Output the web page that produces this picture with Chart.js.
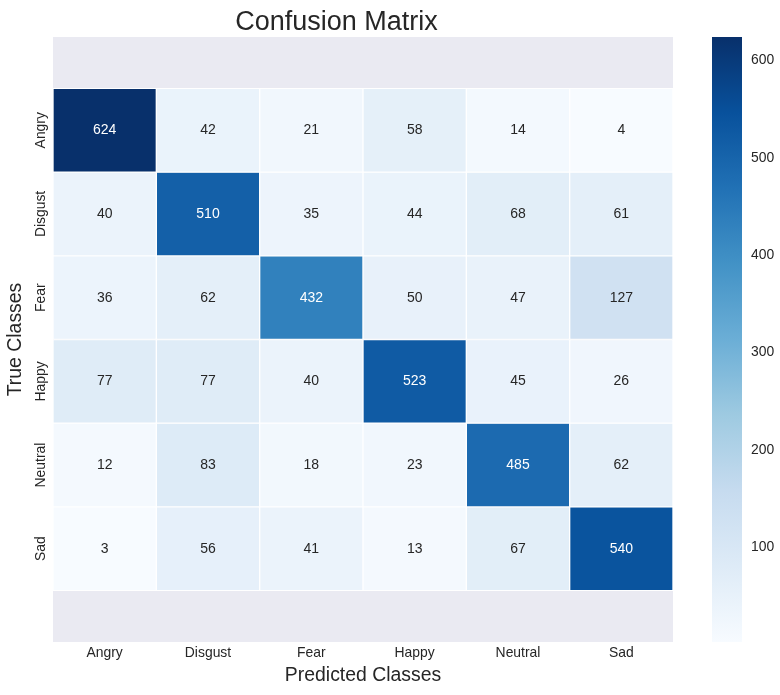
<!DOCTYPE html>
<html>
<head>
<meta charset="utf-8">
<script src="https://cdn.jsdelivr.net/npm/chart.js@4.4.1/dist/chart.umd.min.js"></script>
<style>
  body { margin: 0; background: #fff; }
  #wrap { position: relative; width: 780px; height: 695px; }
  canvas { position: absolute; top: 0; }
  #matriz { left: 0; }
  #barra { left: 700px; z-index: 2; }
</style>
</head>
<body>
<div id="wrap">
  <canvas id="matriz" width="726" height="695"></canvas>
  <canvas id="barra" width="80" height="695"></canvas>
</div>
<script>
// Dados da matriz (linhas = classe real, colunas = classe prevista)
const classes = ['Angry', 'Disgust', 'Fear', 'Happy', 'Neutral', 'Sad'];
const angry   = [624, 42, 21, 58, 14, 4];
const disgust = [40, 510, 35, 44, 68, 61];
const fear    = [36, 62, 432, 50, 47, 127];
const happy   = [77, 77, 40, 523, 45, 26];
const neutral = [12, 83, 18, 23, 485, 62];
const sad     = [3, 56, 41, 13, 67, 540];
const matriz = [angry, disgust, fear, happy, neutral, sad];
const barraTicks = [100, 200, 300, 400, 500, 600];

const vMin = Math.min(...matriz.flat());
const vMax = Math.max(...matriz.flat());

const fonte = '"Liberation Sans", Arial, sans-serif';
const corEscura = '#262626';

// Mapa de cores "Blues"
const blues = ['#f7fbff', '#deebf7', '#c6dbef', '#9ecae1', '#6baed6', '#4292c6', '#2171b5', '#08519c', '#08306b'];
const hexRgb = h => [1, 3, 5].map(i => parseInt(h.substr(i, 2), 16));

function corRgb(v) {
  const t = Math.max(0, Math.min(1, (v - vMin) / (vMax - vMin))) * (blues.length - 1);
  const i = Math.min(Math.floor(t), blues.length - 2);
  const f = t - i;
  const a = hexRgb(blues[i]), b = hexRgb(blues[i + 1]);
  return a.map((c, k) => Math.round(c + (b[k] - c) * f));
}
const cor = v => `rgb(${corRgb(v).join(',')})`;

function corTexto(v) {
  const lin = corRgb(v).map(c => {
    c /= 255;
    return c <= 0.03928 ? c / 12.92 : Math.pow((c + 0.055) / 1.055, 2.4);
  });
  const lum = 0.2126 * lin[0] + 0.7152 * lin[1] + 0.0722 * lin[2];
  return lum > 0.408 ? corEscura : '#ffffff';
}

// Fundo cinza da área do gráfico
const fundoEixo = {
  id: 'fundoEixo',
  beforeDatasetsDraw(chart) {
    const { ctx, chartArea: a } = chart;
    ctx.save();
    ctx.fillStyle = '#EAEAF2';
    ctx.fillRect(a.left, a.top, a.right - a.left, a.bottom - a.top);
    ctx.restore();
  }
};

// Números dentro das células
const anotacoes = {
  id: 'anotacoes',
  afterDatasetsDraw(chart) {
    const ctx = chart.ctx;
    ctx.save();
    ctx.font = `14px ${fonte}`;
    ctx.textAlign = 'center';
    ctx.textBaseline = 'middle';
    chart.data.datasets.forEach((ds, i) => {
      chart.getDatasetMeta(i).data.forEach((bar, j) => {
        const v = matriz[i][j];
        ctx.fillStyle = corTexto(v);
        ctx.fillText(String(v), bar.x, (bar.y + bar.base) / 2);
      });
    });
    ctx.restore();
  }
};

new Chart(document.getElementById('matriz'), {
  type: 'bar',
  data: {
    labels: classes,
    datasets: matriz.map((linha, i) => ({
      label: classes[i],
      data: linha.map(() => [i - 0.5, i + 0.5]),
      backgroundColor: linha.map(cor),
      borderColor: '#ffffff',
      borderWidth: 1,
      borderSkipped: false,
      grouped: false,
      barPercentage: 1,
      categoryPercentage: 1
    }))
  },
  options: {
    responsive: false,
    animation: false,
    layout: { padding: { right: 53 } },
    plugins: {
      legend: { display: false },
      tooltip: { enabled: false },
      title: {
        display: true,
        text: 'Confusion Matrix',
        color: corEscura,
        font: { family: fonte, size: 27, weight: 'normal' },
        padding: { top: 6.6, bottom: -2 }
      }
    },
    scales: {
      x: {
        grid: { display: false, drawTicks: false },
        border: { display: false },
        afterFit: s => { s.height = 53; },
        ticks: { padding: 3, color: corEscura, font: { family: fonte, size: 13.9 } },
        title: {
          display: true,
          text: 'Predicted Classes',
          color: corEscura,
          font: { family: fonte, size: 19.4 },
          padding: { top: 0, bottom: 8 }
        }
      },
      y: {
        type: 'linear',
        min: -1.114,
        max: 6.114,
        reverse: true,
        grid: { display: false, drawTicks: false },
        border: { display: false },
        afterBuildTicks: s => { s.ticks = classes.map((c, i) => ({ value: i })); },
        afterFit: s => { s.width = 53; },
        ticks: {
          autoSkip: false,
          minRotation: 90,
          maxRotation: 90,
          crossAlign: 'center',
          padding: -11,
          color: corEscura,
          font: { family: fonte, size: 13.9 },
          callback: (v, idx) => classes[idx]
        },
        title: {
          display: true,
          text: 'True Classes',
          color: corEscura,
          font: { family: fonte, size: 19.4 },
          padding: { top: 4, bottom: 0 }
        }
      }
    }
  },
  plugins: [fundoEixo, anotacoes]
});

// Barra de cores
function gradiente(c) {
  const chart = c.chart;
  const y = chart.scales.y;
  const y0 = y ? y.getPixelForValue(vMin) : NaN;
  const y1 = y ? y.getPixelForValue(vMax) : NaN;
  if (!Number.isFinite(y0) || !Number.isFinite(y1)) return blues[4];
  const g = chart.ctx.createLinearGradient(0, y0, 0, y1);
  blues.forEach((b, i) => g.addColorStop(i / (blues.length - 1), b));
  return g;
}

new Chart(document.getElementById('barra'), {
  type: 'bar',
  data: {
    labels: [''],
    datasets: [{
      data: [[vMin, vMax]],
      backgroundColor: gradiente,
      borderWidth: 0,
      barPercentage: 1,
      categoryPercentage: 1
    }]
  },
  options: {
    responsive: false,
    animation: false,
    layout: { padding: { top: 37, bottom: 53, left: 12 } },
    plugins: { legend: { display: false }, tooltip: { enabled: false } },
    scales: {
      x: { display: false },
      y: {
        position: 'right',
        min: vMin,
        max: vMax,
        grid: { display: false, drawTicks: false },
        border: { display: false },
        afterBuildTicks: s => { s.ticks = barraTicks.map(v => ({ value: v })); },
        afterFit: s => { s.width = 38; },
        ticks: { padding: 9, color: corEscura, font: { family: fonte, size: 13.9 } }
      }
    }
  }
});
</script>
</body>
</html>
